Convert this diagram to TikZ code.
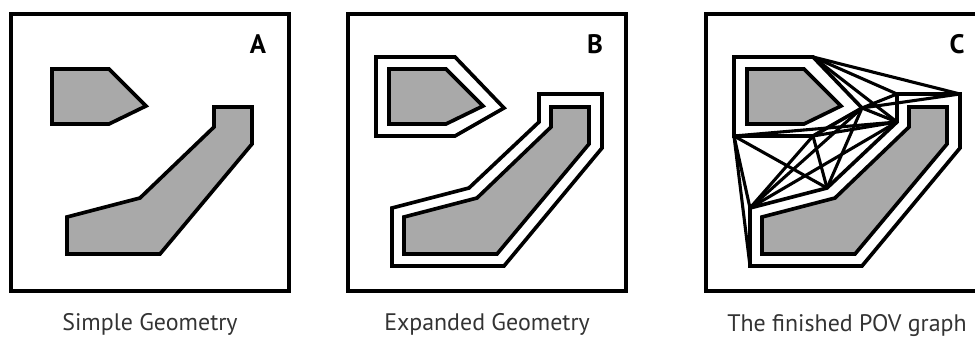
\documentclass[tikz,border=0pt]{standalone}
\usepackage{fontspec}
\setmainfont{PT Sans}
\usetikzlibrary{positioning}

\definecolor{obstacle}{HTML}{A9A9A9}
\definecolor{captiongray}{HTML}{333333}

\begin{document}
\begin{tikzpicture}[
    x=0.025cm, y=-0.025cm,
    panel/.style={draw, line width=2.5pt},
    solid shape/.style={draw, line width=2.6pt, fill=obstacle, line join=miter},
    grown shape/.style={draw, line width=2.6pt, fill=white, line join=miter},
    pov edge/.style={line width=2.2pt},
    corner label/.style={font=\bfseries\fontsize{19}{21}\selectfont},
    caption/.style={font=\fontsize{17}{19}\selectfont, text=captiongray}
]

\useasboundingbox (0,0) rectangle (975,340);
\clip (0,0) rectangle (975,340);

% Panel A: simple geometry
\draw[panel] (11,14) rectangle (289,291);
\node[corner label] (labA) at (258,44) {A};
\draw[solid shape] (52,69) -- (109,69) -- (146,106) -- (109,124) -- (52,124) -- cycle;
\draw[solid shape] (214,107) -- (252,107) -- (252,144) -- (160,254) -- (67,254)
    -- (67,217) -- (140,198) -- (214,127) -- cycle;
\node[caption] (capA) at (150,324) {Simple Geometry};

% Panel B: expanded geometry
\begin{scope}[shift={(337,0)}]
\draw[panel] (11,14) rectangle (289,291);
\node[corner label] (labB) at (258,44) {B};
\draw[grown shape] (39,57) -- (118,57) -- (167,108) -- (118,136) -- (39,136) -- cycle;
\draw[grown shape] (202,94) -- (265,94) -- (265,148) -- (167,266) -- (55,266)
    -- (55,208) -- (132,188) -- (202,122) -- cycle;
\draw[solid shape] (52,69) -- (109,69) -- (146,106) -- (109,124) -- (52,124) -- cycle;
\draw[solid shape] (214,107) -- (252,107) -- (252,144) -- (160,254) -- (67,254)
    -- (67,217) -- (140,198) -- (214,127) -- cycle;
\node[caption] (capB) at (150,324) {Expanded Geometry};
\end{scope}

% Panel C: the POV graph
\begin{scope}[shift={(695,0)}]
\draw[panel] (11,14) rectangle (289,291);
\node[corner label] (labC) at (262,44) {C};

% corners of the expanded shapes
\coordinate (s1) at (39,57);
\coordinate (s2) at (118,57);
\coordinate (s3) at (167,108);
\coordinate (s4) at (118,136);
\coordinate (s5) at (39,136);
\coordinate (b1) at (202,94);
\coordinate (b2) at (265,94);
\coordinate (b3) at (265,148);
\coordinate (b4) at (167,266);
\coordinate (b5) at (55,266);
\coordinate (b6) at (55,208);
\coordinate (b7) at (132,188);
\coordinate (b8) at (202,122);

\draw[grown shape] (s1) -- (s2) -- (s3) -- (s4) -- (s5) -- cycle;
\draw[grown shape] (b1) -- (b2) -- (b3) -- (b4) -- (b5) -- (b6) -- (b7) -- (b8) -- cycle;

% visibility edges
\draw[pov edge] (s2) -- (b2);
\draw[pov edge] (s2) -- (b1);
\draw[pov edge] (s2) -- (b8);
\draw[pov edge] (s3) -- (b2);
\draw[pov edge] (s3) -- (b1);
\draw[pov edge] (s3) -- (b8);
\draw[pov edge] (s4) -- (b8);
\draw[pov edge] (s5) -- (b8);
\draw[pov edge] (s5) -- (b5);
\draw[pov edge] (s5) -- (b6);
\draw[pov edge] (s5) -- (b7);
\draw[pov edge] (b6) -- (s4);
\draw[pov edge] (b6) -- (s3);
\draw[pov edge] (b6) -- (b8);
\draw[pov edge] (b7) -- (s4);
\draw[pov edge] (b7) -- (s3);

\draw[solid shape] (52,69) -- (109,69) -- (146,106) -- (109,124) -- (52,124) -- cycle;
\draw[solid shape] (214,107) -- (252,107) -- (252,144) -- (160,254) -- (67,254)
    -- (67,217) -- (140,198) -- (214,127) -- cycle;
\node[caption] (capC) at (152,326) {The finished POV graph};
\end{scope}

\end{tikzpicture}
\end{document}
